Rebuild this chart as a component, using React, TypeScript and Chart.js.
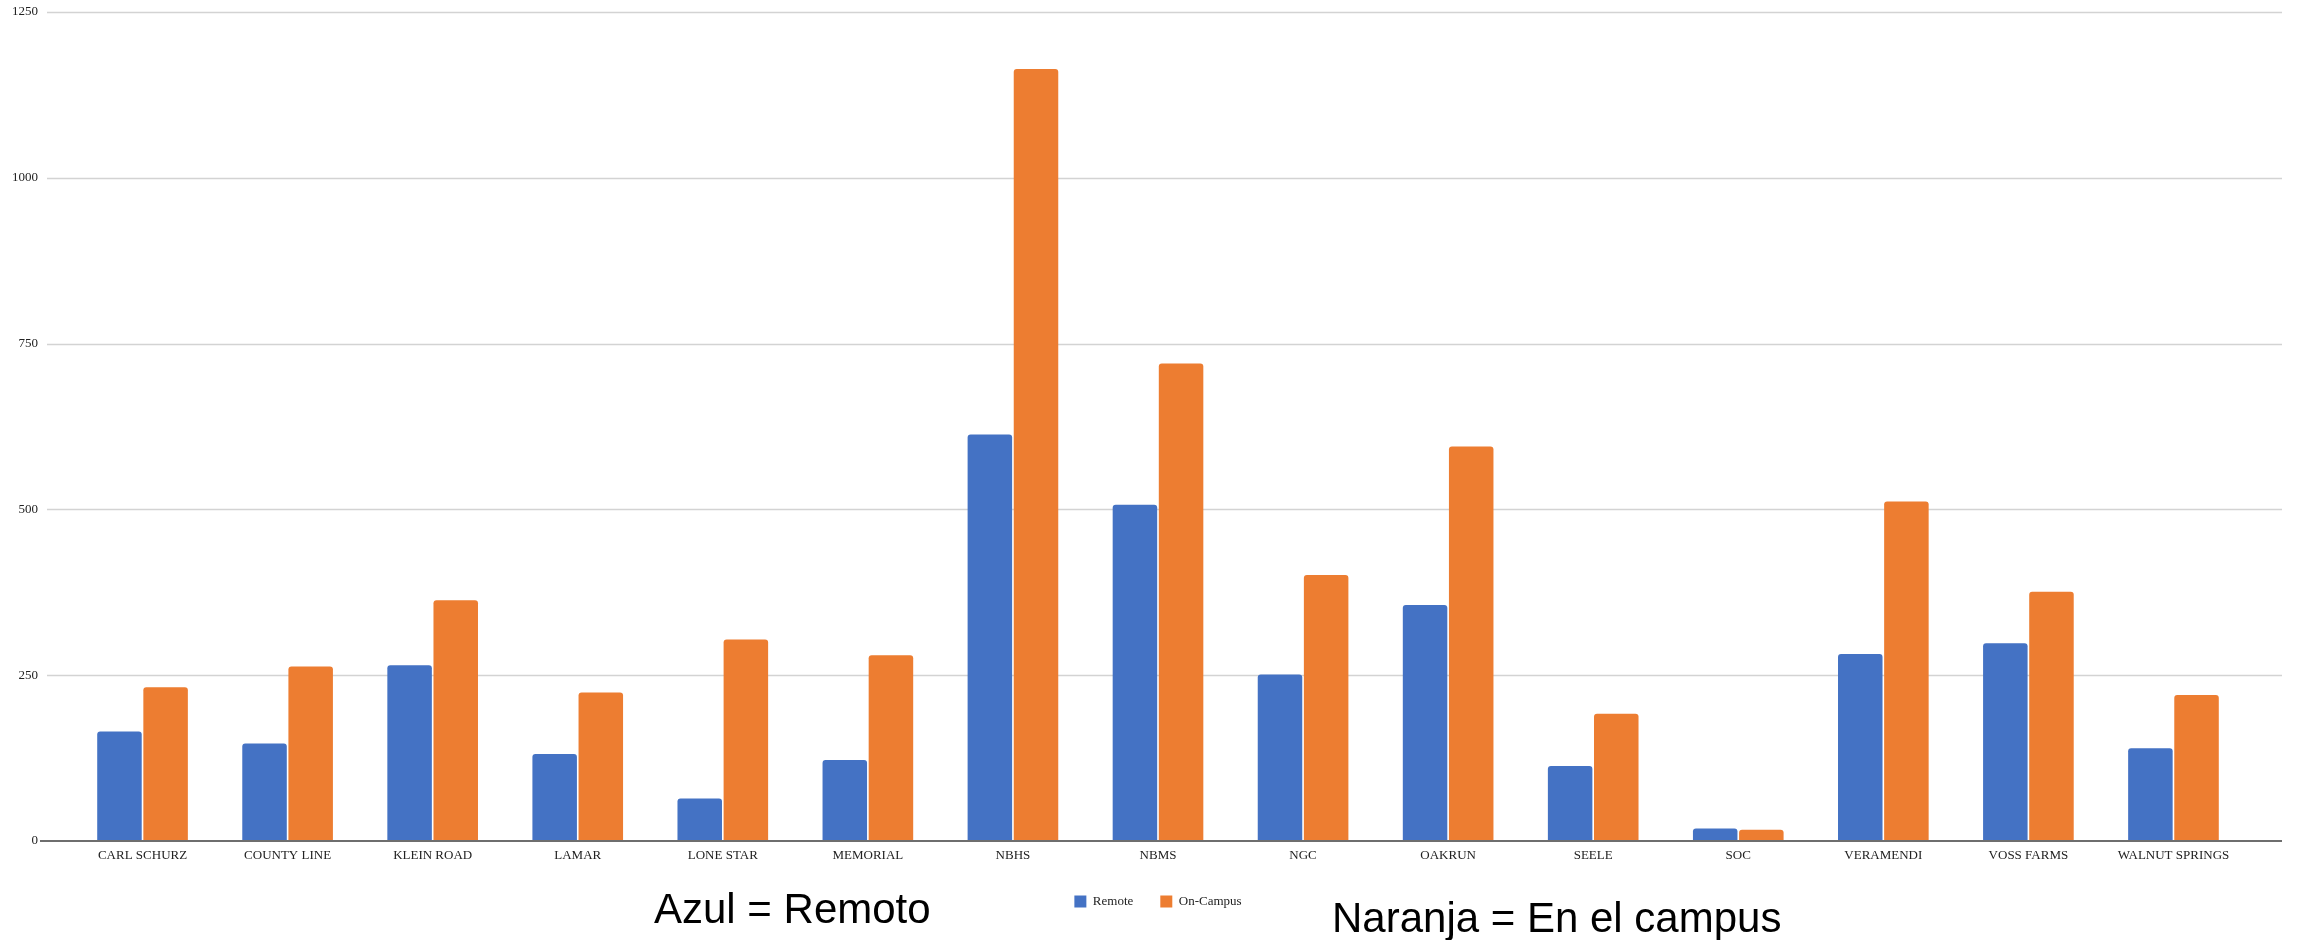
import React, { useEffect, useRef } from "react";
import { Chart, registerables } from "chart.js";

Chart.register(...registerables);

const categories = [
  "CARL SCHURZ",
  "COUNTY LINE",
  "KLEIN ROAD",
  "LAMAR",
  "LONE STAR",
  "MEMORIAL",
  "NBHS",
  "NBMS",
  "NGC",
  "OAKRUN",
  "SEELE",
  "SOC",
  "VERAMENDI",
  "VOSS FARMS",
  "WALNUT SPRINGS",
];

const remoteValues = [165, 147, 265, 131, 64, 122, 613, 507, 251, 356, 113, 19, 282, 298, 140];
const onCampusValues = [232, 263, 363, 224, 304, 280, 1164, 720, 401, 595, 192, 17, 512, 376, 220];

const seriesNames = ["Remote", "On-Campus"];
const yTicks = [0, 250, 500, 750, 1000, 1250];

const BLUE = "#4472C4";
const ORANGE = "#ED7D31";
const FONT = "'Liberation Serif', 'Times New Roman', serif";

const extGrid = {
  id: "extGrid",
  beforeDatasetsDraw(chart: any) {
    const { ctx, chartArea, scales } = chart;
    const y = scales.y;
    ctx.save();
    ctx.strokeStyle = "#d3d3d3";
    ctx.lineWidth = 1.5;
    y.ticks.forEach((t: any) => {
      if (t.value === 0) return;
      const py = Math.round(y.getPixelForValue(t.value)) + 0.5;
      ctx.beginPath();
      ctx.moveTo(chartArea.left - 23, py);
      ctx.lineTo(chartArea.right + 36, py);
      ctx.stroke();
    });
    ctx.restore();
  },
  afterDatasetsDraw(chart: any) {
    const { ctx, chartArea, scales } = chart;
    const y = scales.y;
    const py = y.getPixelForValue(0);
    ctx.save();
    ctx.strokeStyle = "#6e6e6e";
    ctx.lineWidth = 2;
    ctx.beginPath();
    ctx.moveTo(chartArea.left - 30, py);
    ctx.lineTo(chartArea.right + 36, py);
    ctx.stroke();
    ctx.restore();
  },
};

export default function App() {
  const canvasRef = useRef<HTMLCanvasElement | null>(null);

  useEffect(() => {
    if (!canvasRef.current) return;
    const chart = new Chart(canvasRef.current, {
      type: "bar",
      data: {
        labels: categories,
        datasets: [
          {
            label: seriesNames[0],
            data: remoteValues,
            backgroundColor: BLUE,
            borderRadius: { topLeft: 3, topRight: 3, bottomLeft: 0, bottomRight: 0 },
            borderSkipped: false,
            barPercentage: 0.965,
            categoryPercentage: 0.636,
          },
          {
            label: seriesNames[1],
            data: onCampusValues,
            backgroundColor: ORANGE,
            borderRadius: { topLeft: 3, topRight: 3, bottomLeft: 0, bottomRight: 0 },
            borderSkipped: false,
            barPercentage: 0.965,
            categoryPercentage: 0.636,
          },
        ],
      },
      options: {
        responsive: false,
        animation: false,
        layout: { padding: { top: 12, right: 52, left: 0, bottom: 22 } },
        plugins: {
          tooltip: { enabled: false },
          legend: {
            position: "bottom",
            fullSize: false,
            labels: {
              font: { family: FONT, size: 13 },
              color: "#222",
              boxWidth: 12,
              boxHeight: 12,
              padding: 27,
            },
          },
        },
        scales: {
          x: {
            grid: { display: false, drawTicks: false },
            border: { display: false },
            afterFit: (scale: any) => {
              scale.height = 27;
              scale.paddingLeft = 0;
              scale.paddingRight = 0;
            },
            ticks: {
              font: { family: FONT, size: 13 },
              color: "#222",
              padding: 7,
              autoSkip: false,
              maxRotation: 0,
            },
          },
          y: {
            min: 0,
            max: 1250,
            afterBuildTicks: (scale: any) => {
              scale.ticks = yTicks.map((v) => ({ value: v }));
            },
            afterFit: (scale: any) => {
              scale.width = 70;
              scale.paddingTop = 0;
              scale.paddingBottom = 0;
            },
            grid: { display: false, drawTicks: false },
            border: { display: false },
            ticks: {
              font: { family: FONT, size: 13 },
              color: "#222",
              padding: 32,
              callback: (v: any) => String(v),
            },
          },
        },
      },
      plugins: [extGrid],
    });
    return () => chart.destroy();
  }, []);

  const noteBase: React.CSSProperties = {
    position: "absolute",
    fontFamily: "'Liberation Sans', Arial, sans-serif",
    fontSize: 42,
    lineHeight: "42px",
    color: "#000",
    whiteSpace: "nowrap",
    margin: 0,
  };

  return (
    <div style={{ position: "fixed", left: 0, top: 0, width: 2298, height: 940, background: "#fff", overflow: "hidden" }}>
      <canvas ref={canvasRef} width={2298} height={940} style={{ display: "block" }} />
      <div style={{ ...noteBase, left: 654, top: 888 }}>Azul = Remoto</div>
      <div style={{ ...noteBase, left: 1332, top: 897 }}>Naranja = En el campus</div>
    </div>
  );
}
